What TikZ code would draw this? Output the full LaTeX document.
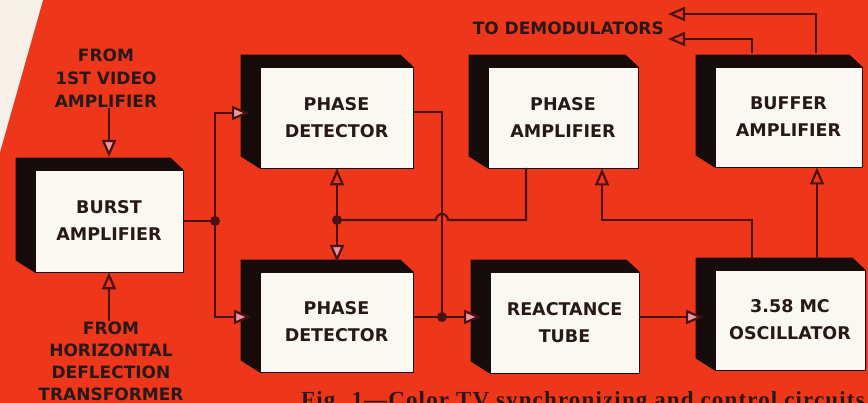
\documentclass[tikz,border=0pt]{standalone}
\usepackage{fontspec}
\setmainfont{DejaVu Sans}
\newfontfamily\capfont[LetterSpace=5]{Liberation Serif}
\usetikzlibrary{arrows.meta,calc}
\definecolor{bgred}{RGB}{238,54,26}
\definecolor{wedgec}{RGB}{246,240,232}
\definecolor{blkc}{RGB}{22,12,12}
\definecolor{facec}{RGB}{250,248,240}
\definecolor{inkc}{RGB}{40,25,25}
\definecolor{wirec}{RGB}{75,18,18}
\definecolor{pinkf}{RGB}{236,150,160}
\pgfdeclarelayer{bgl}\pgfdeclarelayer{shl}\pgfsetlayers{bgl,shl,main}
\tikzset{
 facebox/.style={fill=facec, draw=blkc, line width=0.8pt, inner sep=0, align=center, text=inkc,
   font=\bfseries\fontsize{17.5}{27}\selectfont},
 lbl/.style={align=center, text=inkc, font=\bfseries\fontsize{17}{23}\selectfont, inner sep=0},
 wire/.style={draw=wirec, line width=2.2pt},
 tipP/.style={-{Triangle[length=17pt,width=14pt,fill=pinkf]}},
 tipO/.style={-{Triangle[open,length=17pt,width=14pt]}},
 jdot/.style={circle, fill=wirec, inner sep=0, minimum size=10pt}
}
\newcommand\boxshade[1]{\fill[blkc] ($(#1.north west)+(-19,-12)$) -- ($(#1.north east)+(-13,-12)$) -- (#1.north east) -- (#1.south east) -- (#1.south west) -- ($(#1.south west)+(-19,-12)$) -- cycle;}
\begin{document}
\begin{tikzpicture}[x=1pt,y=-1pt]
\useasboundingbox (0,0) rectangle (868,403);
\clip (0,0) rectangle (868,403);
\begin{pgfonlayer}{bgl}
\fill[bgred] (0,0) rectangle (868,403);
\fill[wedgec] (0,0) -- (43,0) -- (0,152) -- cycle;
\end{pgfonlayer}
% boxes
\node[facebox, minimum width=148pt, minimum height=102pt] (burst) at (109,221) {BURST\\AMPLIFIER};
\node[facebox, minimum width=153pt, minimum height=101pt] (pd1) at (336.5,117.5) {PHASE\\DETECTOR};
\node[facebox, minimum width=153pt, minimum height=100pt] (pd2) at (336.5,322) {PHASE\\DETECTOR};
\node[facebox, minimum width=150pt, minimum height=101pt] (pa) at (563,117.5) {PHASE\\AMPLIFIER};
\node[facebox, minimum width=147pt, minimum height=100pt] (buf) at (788.5,117) {BUFFER\\AMPLIFIER};
\node[facebox, minimum width=149pt, minimum height=101pt] (rt) at (564.5,322.5) {REACTANCE\\TUBE};
\node[facebox, minimum width=150pt, minimum height=100pt] (osc) at (790,320) {3.58 MC\\OSCILLATOR};
\begin{pgfonlayer}{shl}
\boxshade{burst}\boxshade{pd1}\boxshade{pd2}\boxshade{pa}\boxshade{buf}\boxshade{rt}\boxshade{osc}
\end{pgfonlayer}
% labels
\node[lbl] (lv) at (106,78) {FROM\\1ST VIDEO\\AMPLIFIER};
\node[lbl, font=\bfseries\fontsize{17}{22}\selectfont] (lh) at (111,361) {FROM\\HORIZONTAL\\DEFLECTION\\TRANSFORMER};
\node[lbl, anchor=east] (demod) at (664,28) {TO DEMODULATORS};
\node[anchor=base west, inner sep=0, text=inkc, font=\capfont\bfseries\fontsize{23}{23}\selectfont] (cap) at (301,408) {Fig. 1—Color TV synchronizing and control circuits.};
% coordinates
\coordinate (bT) at (109,157);
\node[jdot] (j1) at (215,221) {};
\node[jdot] (j2) at (337,220) {};
\node[jdot] (j3) at (442,317) {};
\coordinate (pd1in) at (249,113);
\coordinate (pd2in) at (251,317);
\coordinate (pd2top) at (337,262);
\coordinate (pd1out) at (413,112);
\coordinate (rtin) at (481,317);
\coordinate (rtout) at (639,317);
\coordinate (oscin) at (703,317);
\coordinate (hopL) at (436,220);
\coordinate (paout) at (526,168);
\coordinate (paoutK) at (526,220);
\coordinate (oscA) at (752,259);
\coordinate (kink) at (602,220);
\coordinate (pain) at (602,168.5);
\coordinate (oscB) at (817,259);
\coordinate (bufin) at (817,167.5);
\coordinate (bufA) at (752,53);
\coordinate (bufB) at (816,53);
\coordinate (dm1) at (668,39);
\coordinate (dm2) at (668,14);
% wires
\draw[wire,tipP] (bT |- lv.south) -- (bT);
\draw[wire,tipO] (burst.south |- lh.north) -- (burst.south);
\draw[wire] (burst.east |- j1) -- (j1.center);
\draw[wire,tipP] (j1.center) |- (pd1in);
\draw[wire,tipP] (j1.center) |- (pd2in);
\draw[wire,tipO] (j2.center) -- (j2.center |- pd1.south);
\draw[wire,tipP] (j2.center) -- (pd2top);
\draw[wire] (paout) -- (paoutK) -- ($(hopL)+(12,0)$) arc[start angle=0,end angle=-180,radius=6] -- (j2.center);
\draw[wire] (pd1out) -| (j3.center);
\draw[wire] (pd2.east |- j3) -- (j3.center);
\draw[wire,tipP] (j3.center) -- (rtin);
\draw[wire,tipP] (rtout) -- (oscin);
\draw[wire,tipO] (oscA) |- (kink) -- (pain);
\draw[wire,tipO] (oscB) -- (bufin);
\draw[wire,tipO] (bufA) |- (dm1);
\draw[wire,tipO] (bufB) |- (dm2);
\end{tikzpicture}
\end{document}
